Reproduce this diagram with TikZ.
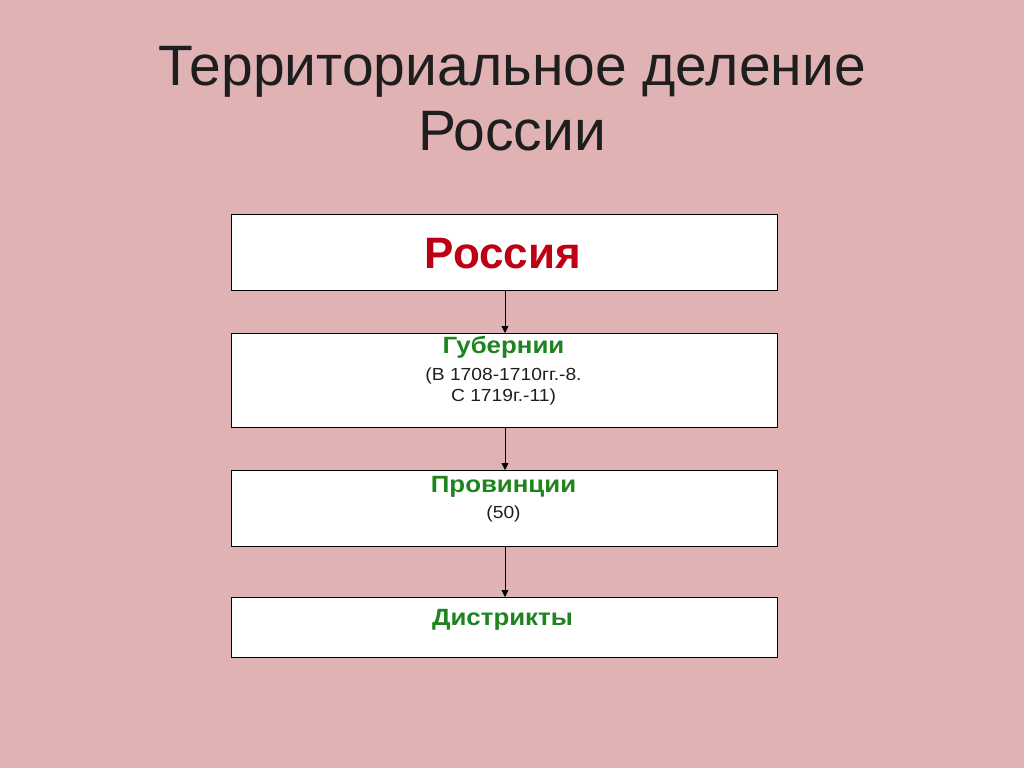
\documentclass[tikz,border=0pt]{standalone}
\usepackage{fontspec}
\usepackage{graphicx}
\setmainfont{Liberation Sans}
\usetikzlibrary{arrows.meta}
\definecolor{bg}{RGB}{224,178,180}
\definecolor{rred}{RGB}{190,0,20}
\definecolor{ggreen}{RGB}{30,132,30}
\definecolor{ttext}{RGB}{30,30,30}
\newcommand{\lvltext}[1]{\scalebox{1.1}[1]{#1}}
\tikzset{
  box/.style={draw=black, line width=0.9pt, fill=white},
  lvl/.style={font=\bfseries\fontsize{23.5}{26}\selectfont, text=ggreen, anchor=base, inner sep=0pt},
  sub/.style={font=\fontsize{17.5}{21}\selectfont, text=ttext, anchor=base, inner sep=0pt},
  conn/.style={draw=black, line width=0.8pt, -{Triangle[length=7pt,width=7pt]}}
}
\begin{document}
\begin{tikzpicture}[x=1pt,y=-1pt]
\fill[bg] (0,0) rectangle (1024,768);
\useasboundingbox (0,0) rectangle (1024,768);
\node[font=\fontsize{57}{65}\selectfont, text=ttext, align=center] (title) at (512,99) {Территориальное деление\\России};
\draw[box] (231,214) rectangle (777,290);
\draw[box] (231,333) rectangle (777,427);
\draw[box] (231,470) rectangle (777,546);
\draw[box] (231,597) rectangle (777,657);
\coordinate (b1t) at (505,214); \coordinate (b1b) at (505,290);
\coordinate (b2t) at (505,333); \coordinate (b2b) at (505,427);
\coordinate (b3t) at (505,470); \coordinate (b3b) at (505,546);
\coordinate (b4t) at (505,597);
\node[font=\bfseries\fontsize{44}{50}\selectfont, text=rred] (russia) at (503,254) {Россия};
\node[lvl] (gub) at (503.5,353) {\lvltext{Губернии}};
\node[sub] (gubsub1) at (503.5,380.5) {\lvltext{(В 1708-1710гг.-8.}};
\node[sub] (gubsub2) at (503.5,401) {\lvltext{С 1719г.-11)}};
\node[lvl] (prov) at (503.5,492.3) {\lvltext{Провинции}};
\node[sub] (provsub) at (503.5,518) {\lvltext{(50)}};
\node[lvl] (distr) at (502.5,625) {\lvltext{Дистрикты}};
\draw[conn] (b1b) -- (b2t);
\draw[conn] (b2b) -- (b3t);
\draw[conn] (b3b) -- (b4t);
\end{tikzpicture}
\end{document}
